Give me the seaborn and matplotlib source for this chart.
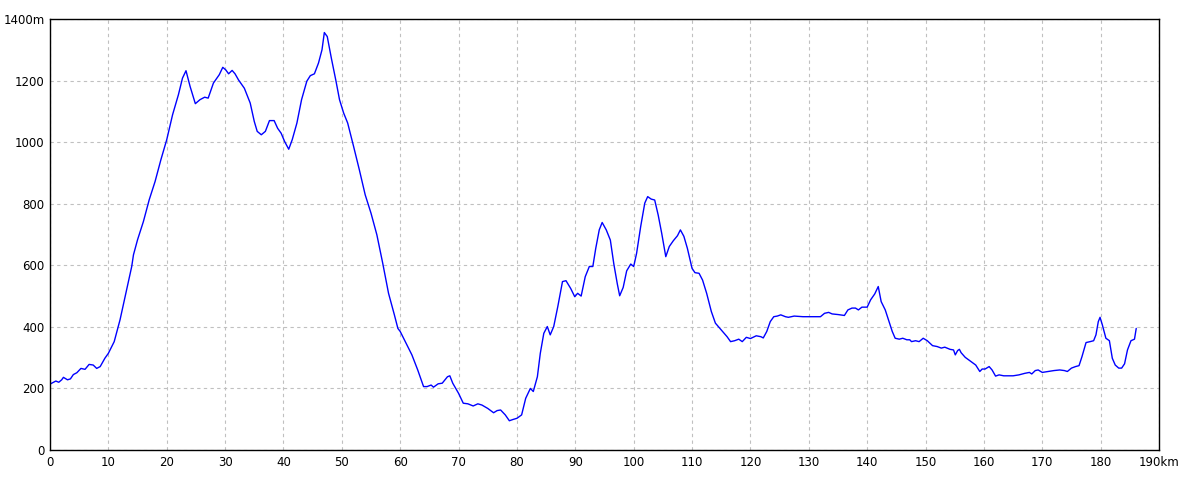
import matplotlib
matplotlib.use("Agg")
import matplotlib.pyplot as plt
import seaborn as sns
import pandas as pd

km = [0, 1, 1.5, 2, 2.3, 3, 3.5, 4, 4.6, 5.3, 6, 6.7, 7.4, 8, 8.6, 9.4, 10, 11, 12, 13,
      14, 14.3, 15, 16, 17, 18, 19, 20, 21, 22, 22.7, 23.3, 24, 24.9, 25.7, 26.5, 27.1, 28, 29, 29.6,
      30.1, 30.6, 31.2, 31.7, 32.3, 33.3, 34.3, 35, 35.5, 36.2, 36.9, 37.6, 38.4, 39, 39.6, 40.2, 40.9, 41.5, 42.3, 43.1,
      44, 44.6, 45.3, 46, 46.6, 47, 47.5, 48.2, 49, 49.6, 50.3, 51, 52, 53, 54, 55, 56, 57, 58, 59,
      59.6, 60, 61, 62, 63, 64, 64.6, 65.3, 65.7, 66.5, 67.2, 68.1, 68.5, 69, 70, 70.8, 71.6, 72.5, 73.3, 74,
      75, 76, 76.6, 77.2, 78, 78.7, 79.3, 80, 80.8, 81.5, 82.3, 82.8, 83.5, 84, 84.6, 85.2, 85.7, 86.3, 87, 87.8,
      88.4, 89.2, 89.9, 90.4, 91, 91.7, 92.4, 93, 93.5, 94.1, 94.6, 95.3, 96, 96.6, 97.2, 97.6, 98.2, 98.8, 99.5, 100,
      100.5, 101.2, 101.9, 102.4, 103, 103.6, 104.2, 104.8, 105.5, 106.1, 106.8, 107.5, 108, 108.6, 109.2, 110, 110.5, 111.2, 111.8, 112.5,
      113.3, 114, 115, 116, 116.6, 117.3, 118, 118.6, 119.3, 120, 121, 121.8, 122.2, 122.8, 123.4, 124, 124.6, 125.2, 126, 126.5,
      127.5, 129, 131, 132, 132.7, 133.4, 134, 135, 136.1, 136.7, 137.4, 138, 138.5, 139.1, 140, 140.6, 141.3, 141.9, 142.4, 143.1,
      143.7, 144.3, 144.8, 145.5, 146.1, 146.8, 147.3, 147.6, 148.3, 148.9, 149.6, 150.3, 151.2, 152, 152.7, 153.3, 154.2, 154.8, 155.1, 155.5,
      155.8, 156.1, 156.8, 157.6, 158.6, 159.3, 159.7, 160.2, 160.9, 161.4, 162, 162.6, 163.4, 165, 166, 167, 167.8, 168.2, 168.8, 169.3,
      170, 171, 172, 173, 173.8, 174.3, 175, 175.7, 176.3, 176.8, 177.5, 178.2, 178.8, 179.2, 179.6, 179.9, 180.3, 180.9, 181.5, 182,
      182.5, 183.1, 183.6, 184.1, 184.6, 185.2, 185.8, 186.1]
quota = [214, 224, 220, 228, 236, 228, 231, 245, 251, 265, 262, 278, 276, 265, 271, 298, 314, 352, 423, 509,
         596, 634, 683, 742, 813, 872, 943, 1008, 1089, 1154, 1208, 1232, 1181, 1125, 1138, 1146, 1143, 1192, 1219, 1243,
         1235, 1222, 1233, 1222, 1202, 1175, 1127, 1067, 1035, 1024, 1035, 1070, 1070, 1045, 1029, 1002, 977, 1008, 1062, 1138,
         1198, 1216, 1222, 1257, 1300, 1356, 1343, 1273, 1198, 1138, 1095, 1062, 987, 910, 829, 769, 699, 607, 509, 439,
         395, 385, 347, 309, 260, 206, 206, 211, 204, 215, 217, 238, 241, 217, 184, 152, 150, 143, 150, 146,
         135, 121, 128, 130, 114, 95, 99, 103, 114, 168, 200, 190, 238, 314, 379, 401, 374, 401, 466, 547,
         550, 525, 498, 509, 500, 563, 596, 596, 655, 715, 739, 715, 682, 604, 539, 501, 528, 582, 604, 596,
         639, 726, 802, 823, 815, 812, 763, 704, 628, 661, 680, 696, 715, 694, 655, 590, 576, 574, 552, 509,
         450, 412, 390, 368, 352, 355, 360, 352, 366, 362, 371, 368, 364, 385, 417, 433, 435, 439, 433, 431,
         435, 433, 433, 433, 444, 447, 442, 440, 437, 455, 461, 461, 455, 464, 464, 488, 507, 531, 482, 455,
         420, 385, 363, 360, 363, 358, 358, 352, 355, 352, 363, 355, 339, 336, 331, 334, 327, 325, 309, 323,
         327, 316, 301, 290, 276, 255, 263, 263, 271, 260, 240, 244, 241, 241, 244, 249, 252, 247, 258, 260,
         252, 255, 258, 260, 258, 255, 266, 271, 274, 303, 349, 352, 355, 374, 417, 431, 406, 363, 355, 298,
         276, 266, 266, 280, 325, 355, 360, 395]

x_ticks = list(range(0, 191, 10))
x_labels = [str(v) for v in x_ticks[:-1]] + ["190km"]
y_ticks = list(range(0, 1401, 200))
y_labels = [str(v) for v in y_ticks[:-1]] + ["1400m"]

df = pd.DataFrame({"km": km, "quota": quota})

sns.set_style("white")
plt.rcParams['font.family'] = ['DejaVu Sans']

fig = plt.figure(figsize=(12, 4.8), dpi=100)
ax = fig.add_axes([50 / 1200, 30 / 480, 1109 / 1200, 431 / 480])

sns.lineplot(data=df, x="km", y="quota", color="#0000ff", linewidth=1, ax=ax)

ax.set_xlim(0, 190)
ax.set_ylim(0, 1400)
ax.set_xticks(x_ticks)
ax.set_xticklabels(x_labels, fontsize=8.5)
ax.set_yticks(y_ticks)
ax.set_yticklabels(y_labels, fontsize=8.5)
ax.tick_params(length=0, pad=4, labelcolor="black")
ax.grid(True, color="#c0c0c0", linestyle=(0, (3, 3)), linewidth=0.8)
ax.set_xlabel("")
ax.set_ylabel("")
for s in ax.spines.values():
    s.set_color("black")
    s.set_linewidth(1)

fig.savefig("out.png", dpi=100)
